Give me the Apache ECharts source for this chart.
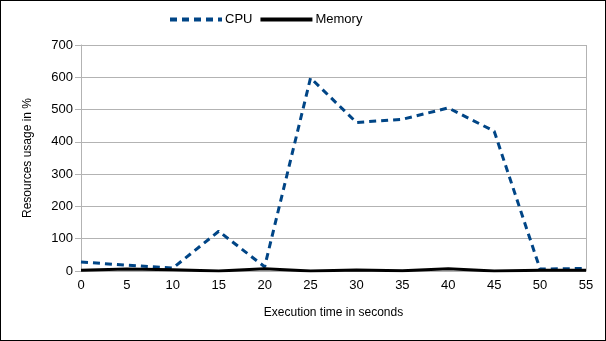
<!DOCTYPE html>
<html>
<head>
<meta charset="utf-8">
<script src="https://cdn.jsdelivr.net/npm/echarts@6/dist/echarts.min.js"></script>
<style>
  html, body { margin: 0; padding: 0; background: #fff; }
  #chart { width: 606px; height: 341px; box-sizing: border-box; border: 1px solid #000; }
</style>
</head>
<body>
<div id="chart"></div>
<script>
const seconds = ["0", "5", "10", "15", "20", "25", "30", "35", "40", "45", "50", "55"];
const cpu = [28, 18, 9, 123, 13, 598, 460, 470, 505, 433, 6, 8];
const memory = [2, 6, 4, 0, 7, 0, 3, 1, 7, 0, 2, 2];

const chart = echarts.init(document.getElementById("chart"));
const font = "Liberation Sans";

chart.setOption({
  animation: false,
  textStyle: { fontFamily: font },
  legend: {
    top: 7,
    left: 162,
    itemWidth: 52,
    itemHeight: 12,
    itemGap: 6,
    itemStyle: { opacity: 0 },
    lineStyle: { width: 4 },
    textStyle: { color: "#000", fontSize: 13, fontFamily: "Liberation Sans Narrow, Liberation Sans", padding: [0, 0, 0, -2] },
    data: ["CPU", "Memory"]
  },
  grid: { left: 80, right: 19, top: 44, bottom: 69 },
  xAxis: {
    type: "category",
    data: seconds,
    boundaryGap: false,
    name: "Execution time in seconds",
    nameLocation: "middle",
    nameGap: 36,
    nameTextStyle: { color: "#000", fontSize: 12 },
    axisLine: { lineStyle: { color: "#b3b3b3" } },
    axisTick: { show: false },
    axisLabel: { color: "#000", fontSize: 13, margin: 8 },
    splitLine: { show: false }
  },
  yAxis: {
    type: "value",
    min: 0,
    max: 700,
    interval: 100,
    name: "Resources usage in %",
    nameLocation: "middle",
    nameGap: 47,
    nameTextStyle: { color: "#000", fontSize: 12 },
    axisLine: { show: true, lineStyle: { color: "#b3b3b3" } },
    axisTick: { show: true, length: 6, lineStyle: { color: "#b3b3b3" } },
    axisLabel: { color: "#000", fontSize: 13, margin: 8 },
    splitLine: { lineStyle: { color: "#b3b3b3" } }
  },
  series: [
    {
      name: "CPU",
      type: "line",
      data: cpu,
      symbol: "none",
      lineStyle: { color: "#004586", width: 3, type: [7, 5] },
      itemStyle: { color: "#004586" },
      markLine: {
        // right-hand frame of the plot area
        silent: true,
        symbol: "none",
        label: { show: false },
        lineStyle: { color: "#b3b3b3", type: "solid", width: 1 },
        data: [{ xAxis: "55" }]
      }
    },
    {
      name: "Memory",
      type: "line",
      data: memory,
      symbol: "none",
      lineStyle: { color: "#000", width: 3 },
      itemStyle: { color: "#000" }
    }
  ]
});
</script>
</body>
</html>
